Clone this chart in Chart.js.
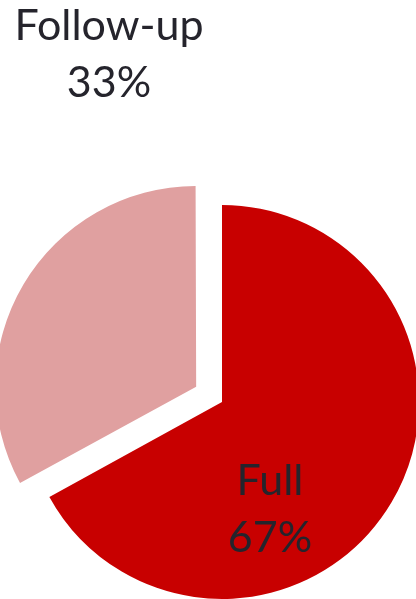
<!DOCTYPE html>
<html>
<head>
<meta charset="utf-8">
<script src="https://cdn.jsdelivr.net/npm/chart.js@4.4.1/dist/chart.umd.min.js"></script>
<style>
  html, body { margin: 0; padding: 0; background: #fff; overflow: hidden; }
  body { width: 416px; height: 599px; position: relative; }
  #wrap { position: absolute; left: 0; top: 0; width: 444px; height: 804px; }
</style>
</head>
<body>
<div id="wrap"><canvas id="pie"></canvas></div>
<script>
// Visit type split
const categories = ['Full', 'Follow-up'];
const shares = [67, 33];
const sliceColors = ['#C80000', '#E0A0A0'];
const sliceOffsets = [0, 120];

// Where each label block sits, relative to the pie centre
const labelAnchors = [
  { dx: 48, dy: 105 },
  { dx: -113, dy: -350 },
];

const total = shares.reduce((a, b) => a + b, 0);

const sliceLabels = {
  id: 'sliceLabels',
  afterDatasetsDraw(chart) {
    const { ctx, chartArea } = chart;
    const cx = (chartArea.left + chartArea.right) / 2;
    const cy = (chartArea.top + chartArea.bottom) / 2;
    ctx.save();
    ctx.font = '43px Lato, "Noto Sans", sans-serif';
    ctx.fillStyle = '#25242c';
    ctx.textAlign = 'center';
    ctx.textBaseline = 'alphabetic';
    categories.forEach((name, i) => {
      const a = labelAnchors[i];
      const pct = Math.round((shares[i] / total) * 100) + '%';
      ctx.fillText(name, cx + a.dx, cy + a.dy - 12);
      ctx.fillText(pct, cx + a.dx, cy + a.dy + 45);
    });
    ctx.restore();
  },
};

new Chart(document.getElementById('pie'), {
  type: 'pie',
  data: {
    labels: categories,
    datasets: [{
      data: shares,
      backgroundColor: sliceColors,
      borderWidth: 0,
      offset: sliceOffsets,
    }],
  },
  options: {
    responsive: true,
    maintainAspectRatio: false,
    animation: false,
    radius: 197,
    layout: { padding: 0 },
    plugins: {
      legend: { display: false },
      tooltip: { enabled: false },
    },
  },
  plugins: [sliceLabels],
});
</script>
</body>
</html>
